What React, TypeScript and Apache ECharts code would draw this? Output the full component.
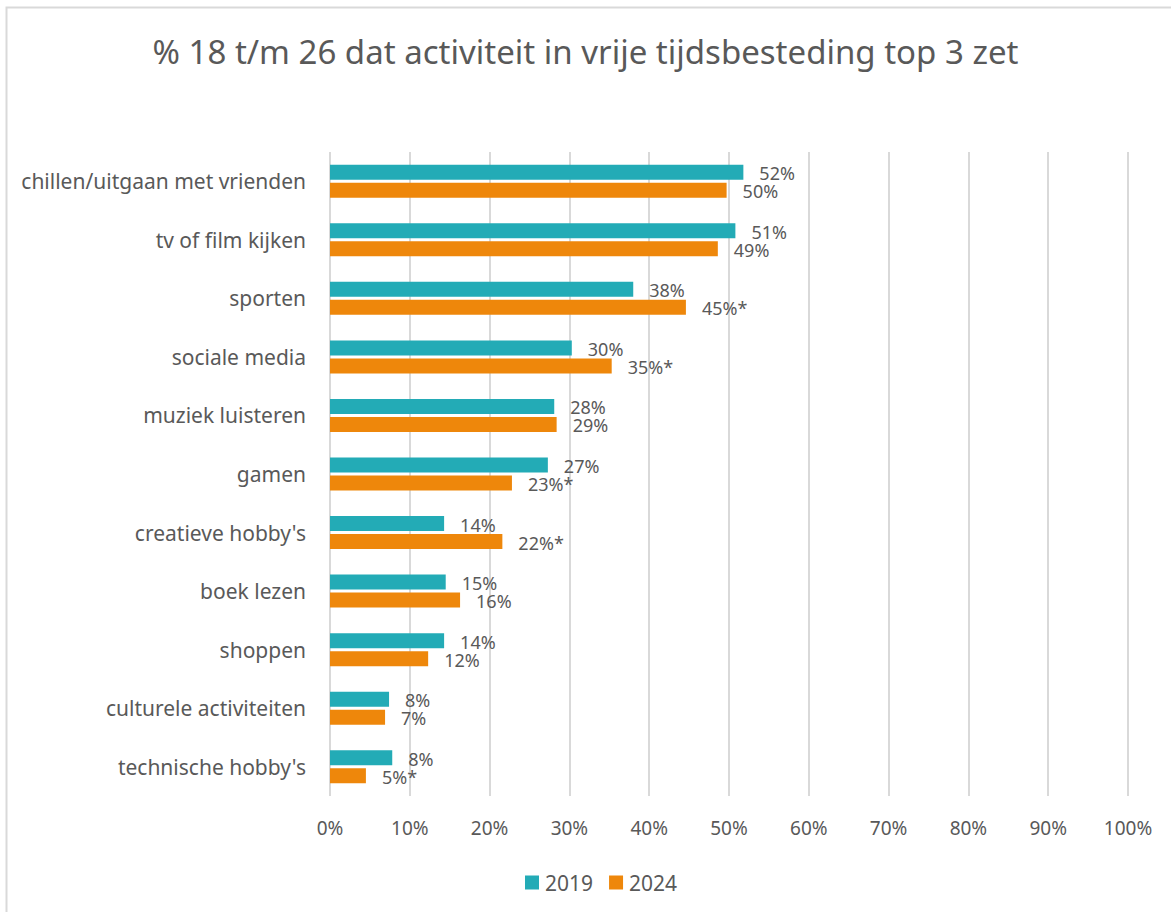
import React, { useEffect, useRef } from "react";
import * as echarts from "echarts";

const categories = [
  "chillen/uitgaan met vrienden",
  "tv of film kijken",
  "sporten",
  "sociale media",
  "muziek luisteren",
  "gamen",
  "creatieve hobby's",
  "boek lezen",
  "shoppen",
  "culturele activiteiten",
  "technische hobby's",
];
const values2019 = [51.8, 50.8, 38.0, 30.3, 28.1, 27.3, 14.3, 14.5, 14.3, 7.4, 7.8];
const values2024 = [49.7, 48.6, 44.6, 35.3, 28.4, 22.8, 21.6, 16.3, 12.3, 6.9, 4.5];
const labels2019 = ["52%", "51%", "38%", "30%", "28%", "27%", "14%", "15%", "14%", "8%", "8%"];
const labels2024 = ["50%", "49%", "45%*", "35%*", "29%", "23%*", "22%*", "16%", "12%", "7%", "5%*"];
const xTicks = [0, 10, 20, 30, 40, 50, 60, 70, 80, 90, 100];
const titleText = "% 18 t/m 26 dat activiteit in vrije tijdsbesteding top 3 zet";

const FONT = "'Noto Sans', sans-serif";
const TXT = "#595959";

export default function App() {
  const ref = useRef<HTMLDivElement>(null);
  useEffect(() => {
    if (!ref.current) return;
    const chart = echarts.init(ref.current, null, { renderer: "svg" });
    const valueLabel = (arr: string[]) => ({
      show: true,
      position: "right",
      distance: 16,
      offset: [0, 1],
      fontFamily: FONT,
      fontSize: 18,
      lineHeight: 15,
      color: TXT,
      formatter: (p: any) => arr[p.dataIndex],
    });
    chart.setOption({
      animation: false,
      textStyle: { fontFamily: FONT },
      title: {
        text: titleText,
        left: "center",
        top: 30,
        textStyle: { fontFamily: FONT, fontSize: 33, fontWeight: "normal", color: TXT },
      },
      graphic: [
        {
          type: "rect",
          shape: { x: 6.5, y: 7.5, width: 1250, height: 1000 },
          style: { fill: "none", stroke: "#D9D9D9", lineWidth: 2 },
          silent: true,
        },
      ],
      legend: {
        top: 867,
        left: 520,
        itemWidth: 14,
        itemHeight: 14,
        itemGap: 16,
        icon: "rect",
        textStyle: { fontFamily: FONT, fontSize: 21, color: TXT, padding: [0, 0, 0, 1] },
        data: ["2019", "2024"],
      },
      grid: { left: 330, right: 43, top: 152, bottom: 116, containLabel: false },
      xAxis: {
        type: "value",
        min: xTicks[0],
        max: xTicks[xTicks.length - 1],
        interval: 10,
        axisLine: { show: false },
        axisTick: { show: false },
        splitLine: { lineStyle: { color: "#D9D9D9", width: 2 } },
        axisLabel: {
          formatter: (v: number) => v + "%",
          fontFamily: FONT,
          fontSize: 19,
          color: TXT,
          margin: 22,
        },
      },
      yAxis: {
        type: "category",
        data: categories,
        inverse: true,
        axisLine: { show: false },
        axisTick: { show: false },
        axisLabel: { fontFamily: FONT, fontSize: 21, color: TXT, margin: 24 },
      },
      series: [
        {
          name: "2019",
          type: "bar",
          data: values2019,
          barWidth: 15,
          barGap: "20%",
          itemStyle: { color: "#23ABB6" },
          label: valueLabel(labels2019),
        },
        {
          name: "2024",
          type: "bar",
          data: values2024,
          barWidth: 15,
          barGap: "20%",
          itemStyle: { color: "#EE870B" },
          label: valueLabel(labels2024),
        },
      ],
    });
    return () => chart.dispose();
  }, []);
  return (
    <div
      ref={ref}
      style={{ position: "fixed", left: 0, top: 0, width: 1171, height: 912, background: "#fff" }}
    />
  );
}
